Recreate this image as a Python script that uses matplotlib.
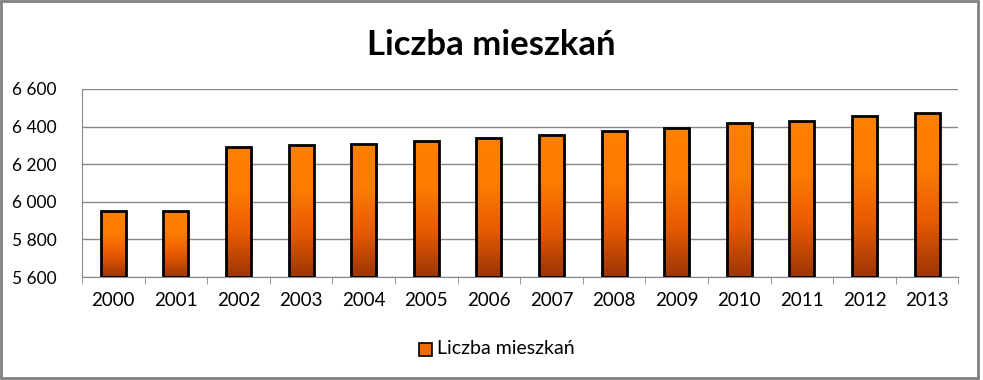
import numpy as np
import matplotlib.pyplot as plt
from matplotlib.colors import LinearSegmentedColormap
from matplotlib.ticker import FuncFormatter, FixedLocator
from matplotlib.patches import Rectangle

plt.rcParams['font.family'] = ['Lato', 'DejaVu Sans']

# dane
lata = ['2000', '2001', '2002', '2003', '2004', '2005', '2006',
        '2007', '2008', '2009', '2010', '2011', '2012', '2013']
mieszkania = [5952, 5952, 6291, 6304, 6309, 6323, 6339,
              6355, 6376, 6392, 6418, 6429, 6458, 6472]
y_ticks = [5600, 5800, 6000, 6200, 6400, 6600]

fig = plt.figure(figsize=(9.83, 3.80), dpi=100)
ax = fig.add_axes([0.0834, 0.271, 0.8916, 0.495])

x = np.arange(len(lata))
szer = 0.4
bary = ax.bar(x, np.array(mieszkania) - 5600, bottom=5600, width=szer,
              color='none', edgecolor='black', linewidth=2, zorder=3)

# gradient pomaranczowy -> brazowy
cmap = LinearSegmentedColormap.from_list('pom', ['#9c3506', '#e65a00', '#ff7c00', '#ff8000'])
grad = np.linspace(0, 1, 256).reshape(-1, 1)
for b in bary:
    x0, y0 = b.get_x(), b.get_y()
    w, h = b.get_width(), b.get_height()
    im = ax.imshow(grad, cmap=cmap, origin='lower', aspect='auto',
                   extent=[x0, x0 + w, y0, y0 + h], zorder=2)
    im.set_clip_path(b)
    # lekki cien
    ax.add_patch(Rectangle((x0 + 0.025, y0), w, h - 4, facecolor='#00000022',
                           edgecolor='none', zorder=1))

ax.set_xlim(-0.5, len(lata) - 0.5)
ax.set_ylim(5600, 6600)
ax.set_yticks(y_ticks)
ax.yaxis.set_major_formatter(FuncFormatter(lambda v, p: f'{int(v):,}'.replace(',', ' ')))
ax.set_xticks(x)
ax.set_xticklabels(lata)
ax.xaxis.set_minor_locator(FixedLocator(np.arange(-0.5, len(lata), 1)))
ax.tick_params(axis='x', which='major', length=0, pad=11, labelsize=13.5)
ax.tick_params(axis='x', which='minor', length=5, color='#888888', direction='out')
ax.tick_params(axis='y', length=0, pad=18, labelsize=12.5)

ax.grid(axis='y', color='#888888', linewidth=1, zorder=0)
ax.set_axisbelow(True)
for s in ['top', 'right']:
    ax.spines[s].set_visible(False)
for s in ['left', 'bottom']:
    ax.spines[s].set_color('#888888')

fig.text(0.5, 0.882, 'Liczba mieszkań', ha='center', va='center',
         fontsize=25, fontweight='bold')

# legenda
lx, ly = 0.426, 0.064
fig.patches.append(Rectangle((lx, ly), 0.0135, 0.034, transform=fig.transFigure,
                             facecolor='#f06a00', edgecolor='black', linewidth=1.2))
fig.text(lx + 0.019, ly + 0.019, 'Liczba mieszkań', ha='left', va='center', fontsize=14)

# ramka wykresu
fig.patches.append(Rectangle((0.001, 0.004), 0.994, 0.993, transform=fig.transFigure,
                             facecolor='none', edgecolor='#808080', linewidth=2))

fig.savefig('out.png', dpi=100)
